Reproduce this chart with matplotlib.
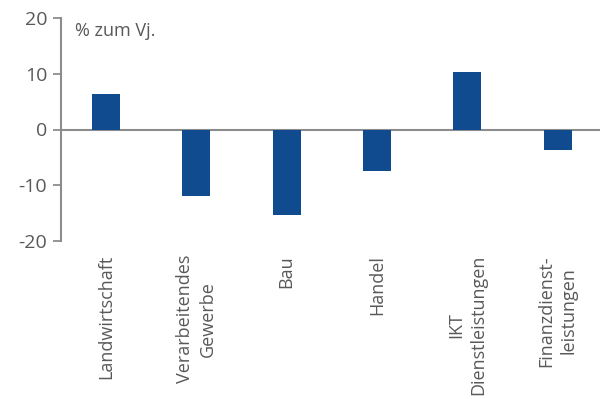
import matplotlib
matplotlib.use("Agg")
import matplotlib.pyplot as plt

categories = ["Landwirtschaft", "Verarbeitendes\nGewerbe", "Bau", "Handel",
              "IKT\nDienstleistungen", "Finanzdienst-\nleistungen"]
values = [6.3, -11.9, -15.4, -7.5, 10.4, -3.7]
yticks = [-20, -10, 0, 10, 20]
unit_label = "% zum Vj."

bar_color = "#114B8F"
axis_color = "#8C8C8C"
text_color = "#595959"

plt.rcParams['font.family'] = ['Open Sans', 'DejaVu Sans']

fig = plt.figure(figsize=(6.0, 3.99), dpi=100)
ax = fig.add_axes([61/600, 1-241/399, 1-61/600, (241-18)/399])

x = list(range(len(categories)))
ax.bar(x, values, width=0.31, color=bar_color, zorder=2)
ax.axhline(0, color=axis_color, lw=1.5, zorder=1)

ax.set_xlim(-0.5, 5.47)
ax.set_ylim(-20, 20)
ax.set_yticks(yticks)
ax.set_yticklabels([str(t) for t in yticks], fontsize=14, color=text_color)
ax.tick_params(axis='y', direction='out', length=6, width=1.3, color=axis_color, pad=4)

ax.set_xticks(x)
ax.set_xticklabels(categories, rotation=90, ha='center', va='top',
                   multialignment='center', fontsize=13, color=text_color,
                   linespacing=1.3)
ax.tick_params(axis='x', length=0, pad=10)

for s in ['top', 'right', 'bottom']:
    ax.spines[s].set_visible(False)
ax.spines['left'].set_color(axis_color)
ax.spines['left'].set_linewidth(1.5)

ax.text(75/600, 1-36/399, unit_label, transform=fig.transFigure,
        fontsize=13, color=text_color, ha='left', va='baseline')

fig.savefig("out.png", dpi=100)
